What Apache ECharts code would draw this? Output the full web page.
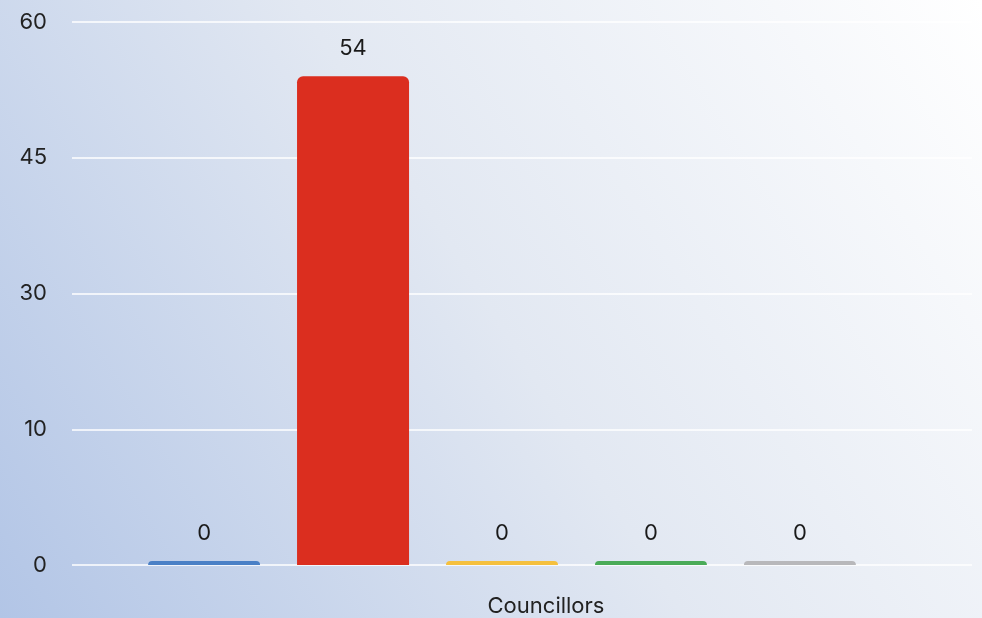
<!DOCTYPE html>
<html>
<head>
<meta charset="utf-8">
<script src="https://cdn.jsdelivr.net/npm/echarts@6/dist/echarts.min.js"></script>
<style>html,body{margin:0;padding:0;}#c{width:982px;height:618px;}</style>
</head>
<body>
<div id="c"></div>
<script>
var categories = ['Councillors'];
var seriesNames = ['Party A', 'Party B', 'Party C', 'Party D', 'Party E'];
var seriesValues = [[0], [54], [0], [0], [0]];
var seriesColors = ['#4a80c6', '#db2e1f', '#f5c03e', '#4aab58', '#b8b8bb'];
var yTickValues = [0, 15, 30, 45, 60];
var yTickLabels = ['0', '10', '30', '45', '60'];

var FONT = 'Inter, "Noto Sans", sans-serif';
var chart = echarts.init(document.getElementById('c'), null, {renderer: 'canvas'});

var series = seriesNames.map(function (n, i) {
  return {
    name: n,
    type: 'bar',
    xAxisIndex: 1,
    yAxisIndex: 1,
    data: seriesValues[i],
    barWidth: 112,
    barGap: '33%',
    barMinHeight: 4,
    itemStyle: {color: seriesColors[i], borderRadius: [6, 6, 0, 0]},
    label: {
      show: true, position: 'top', distance: 17,
      color: '#1a1a1a', fontSize: 22, fontFamily: FONT
    }
  };
});

chart.setOption({
  backgroundColor: {
    type: 'linear', x: 0, y: 1, x2: 1, y2: 0,
    colorStops: [
      {offset: 0, color: '#b2c5e6'},
      {offset: 0.5, color: '#e2e8f2'},
      {offset: 1, color: '#ffffff'}
    ]
  },
  animation: false,
  grid: [
    {left: 72, right: 10, top: 22, bottom: 53},
    {left: 52, right: 30, top: 22, bottom: 53}
  ],
  xAxis: [
    {gridIndex: 0, type: 'category', data: categories, show: false},
    {
      gridIndex: 1, type: 'category', data: categories,
      axisLine: {show: false}, axisTick: {show: false},
      axisLabel: {
        color: '#222', fontSize: 22, fontFamily: FONT, margin: 30,
        padding: [0, 0, 0, 88]
      }
    }
  ],
  yAxis: [
    {
      gridIndex: 0, type: 'value', min: 0, max: 60, interval: 15,
      axisLine: {show: false}, axisTick: {show: false},
      splitLine: {lineStyle: {color: '#ffffff', width: 1.5}},
      axisLabel: {
        color: '#222', fontSize: 22, fontFamily: FONT, margin: 25,
        formatter: function (v) {
          var k = yTickValues.indexOf(v);
          return k >= 0 ? yTickLabels[k] : '';
        }
      }
    },
    {gridIndex: 1, type: 'value', min: 0, max: 60, interval: 15, show: false, splitLine: {show: false}}
  ],
  series: series
});
</script>
</body>
</html>
